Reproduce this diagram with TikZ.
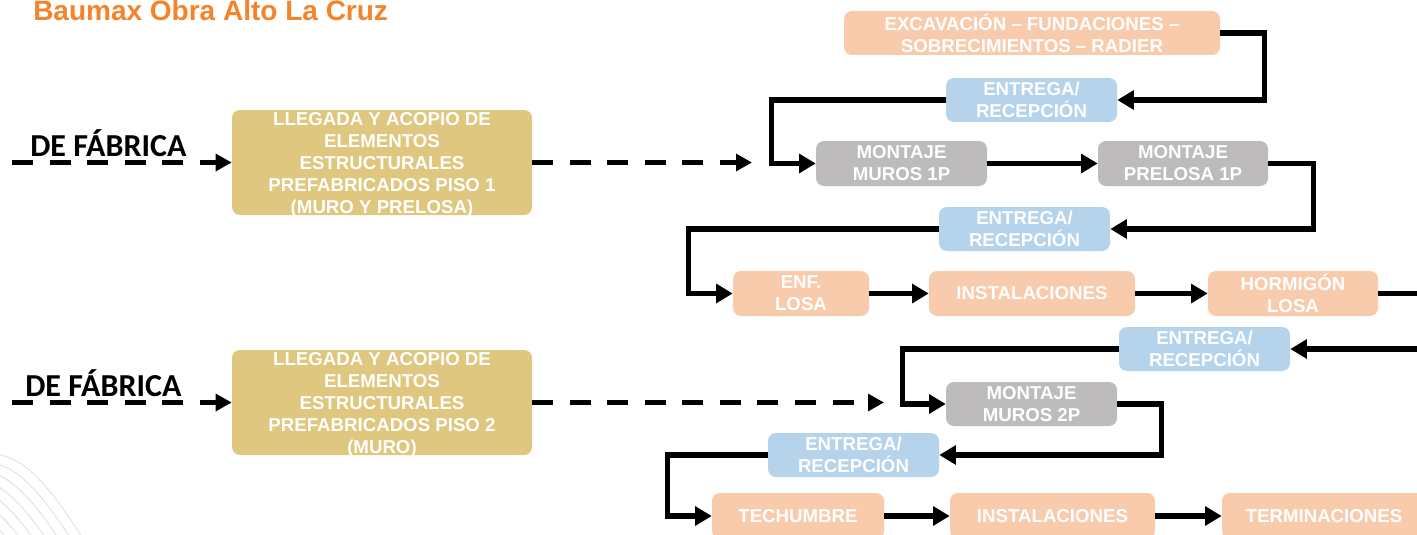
\documentclass[tikz,border=0pt]{standalone}
\usepackage{fontspec}
\setmainfont{Liberation Sans}
\newfontfamily\calib{Carlito}
\usetikzlibrary{arrows.meta}
\definecolor{peach}{HTML}{F8CBAD}
\definecolor{lblue}{HTML}{B5D3EB}
\definecolor{mgray}{HTML}{BDBBBB}
\definecolor{gold}{HTML}{DFC77F}
\definecolor{torange}{HTML}{F5832A}
\definecolor{wavegray}{HTML}{E4E4E4}
\begin{document}
\begin{tikzpicture}[x=0.75pt,y=-0.75pt,
  box/.style={fill=#1, rounded corners=6pt, inner sep=0pt, text=white,
    font=\bfseries\fontsize{14}{16.5}\selectfont, align=center},
  txt/.style={inner sep=0pt, text=white, font=\bfseries\fontsize{14}{16.5}\selectfont, align=center},
  fab/.style={inner sep=0pt, anchor=base west, font=\calib\bfseries\fontsize{24}{28}\selectfont},
  conn/.style={line width=4pt, -{Triangle[length=12.5pt,width=14pt]}},
  dconn/.style={line width=4pt, dash pattern=on 15.75pt off 12.4pt, -{Triangle[length=12pt,width=12.5pt]}},
  wave/.style={draw=wavegray, line width=0.8pt}]
\useasboundingbox (0,0) rectangle (1417,535);
\clip (0,0) rectangle (1417,535);

% decorative waves
\foreach \i in {0,...,6}{
  \draw[wave, shift={(-7*\i,8*\i)}] (0,455) .. controls (28,460) and (52,490) .. (84,540);
}

% title
\node[inner sep=0pt, anchor=base west, text=torange, font=\bfseries\fontsize{21}{25}\selectfont] (title) at (33,21) {Baumax Obra Alto La Cruz};

% left column
\node[box=gold, minimum width=225pt, minimum height=78.75pt] (g1) at (382,162.5) {};
\node[txt] (g1t) at ([yshift=-2pt]g1.center) {LLEGADA Y ACOPIO DE\\ELEMENTOS\\ESTRUCTURALES\\PREFABRICADOS PISO 1\\(MURO Y PRELOSA)};
\node[box=gold, minimum width=225pt, minimum height=78.75pt] (g2) at (382,402.5) {};
\node[txt] (g2t) at ([yshift=-1.5pt]g2.center) {LLEGADA Y ACOPIO DE\\ELEMENTOS\\ESTRUCTURALES\\PREFABRICADOS PISO 2\\(MURO)};

\node[fab] (f1) at (30,156) {DE FÁBRICA};
\node[fab] (f2) at (25,396) {DE FÁBRICA};

\coordinate (s1) at (12,162.5);
\coordinate (s2) at (12,402.5);
\coordinate (e1) at (752,162.5);
\coordinate (e2) at (884,402.5);

% right flow
\node[box=peach, minimum width=282pt, minimum height=33pt] (exc) at (1032,33) {EXCAVACIÓN – FUNDACIONES –\\SOBRECIMIENTOS – RADIER};
\node[box=lblue, minimum width=128.25pt, minimum height=33pt] (ent1) at (1031.5,100) {ENTREGA/\\RECEPCIÓN};
\node[box=mgray, minimum width=128.25pt, minimum height=33.75pt] (mm1) at (901.5,163.5) {MONTAJE\\MUROS 1P};
\node[box=mgray, minimum width=127.5pt, minimum height=33.75pt] (mp1) at (1183,163.5) {MONTAJE\\PRELOSA 1P};
\node[box=lblue, minimum width=128.25pt, minimum height=33pt] (ent2) at (1024.5,229) {ENTREGA/\\RECEPCIÓN};
\node[box=peach, minimum width=102pt, minimum height=33.75pt] (enf) at (801,293.5) {ENF.\\LOSA};
\node[box=peach, minimum width=154.5pt, minimum height=33.75pt] (inst1) at (1032,293.5) {INSTALACIONES};
\node[box=peach, minimum width=127.5pt, minimum height=33.75pt] (horm) at (1293,293.5) {HORMIGÓN\\LOSA};
\node[box=lblue, minimum width=128.25pt, minimum height=33pt] (ent3) at (1204.5,349) {ENTREGA/\\RECEPCIÓN};
\node[box=mgray, minimum width=128.25pt, minimum height=33pt] (mm2) at (1031.5,404) {MONTAJE\\MUROS 2P};
\node[box=lblue, minimum width=128.25pt, minimum height=33pt] (ent4) at (853.5,455) {ENTREGA/\\RECEPCIÓN};
\node[box=peach, minimum width=129pt, minimum height=34.5pt] (tech) at (798,516) {TECHUMBRE};
\node[box=peach, minimum width=153.75pt, minimum height=34.5pt] (inst2) at (1052.5,516) {INSTALACIONES};
\node[box=peach, minimum width=153pt, minimum height=34.5pt] (term) at (1324,516) {TERMINACIONES};

% dashed connectors
\draw[dconn] (s1) -- (g1.west);
\draw[dconn] (g1.east) -- (e1);
\draw[dconn] (s2) -- (g2.west);
\draw[dconn] (g2.east) -- (e2);

% solid connectors
\draw[conn] (exc.east) -- ++(44,0) |- (ent1.east);
\draw[conn] (ent1.west) -- ++(-174,0) |- (mm1.west);
\draw[conn] (mm1) -- (mp1);
\draw[conn] (mp1.east) -- ++(45,0) |- (ent2.east);
\draw[conn] (ent2.west) -- ++(-250,0) |- (enf.west);
\draw[conn] (enf) -- (inst1);
\draw[conn] (inst1) -- (horm);
\draw[conn] (horm.east) -- ++(60,0) |- (ent3.east);
\draw[conn] (ent3.west) -- ++(-216,0) |- (mm2.west);
\draw[conn] (mm2.east) -- ++(44,0) |- (ent4.east);
\draw[conn] (ent4.west) -- ++(-100,0) |- (tech.west);
\draw[conn] (tech) -- (inst2);
\draw[conn] (inst2) -- (term);
\end{tikzpicture}
\end{document}
